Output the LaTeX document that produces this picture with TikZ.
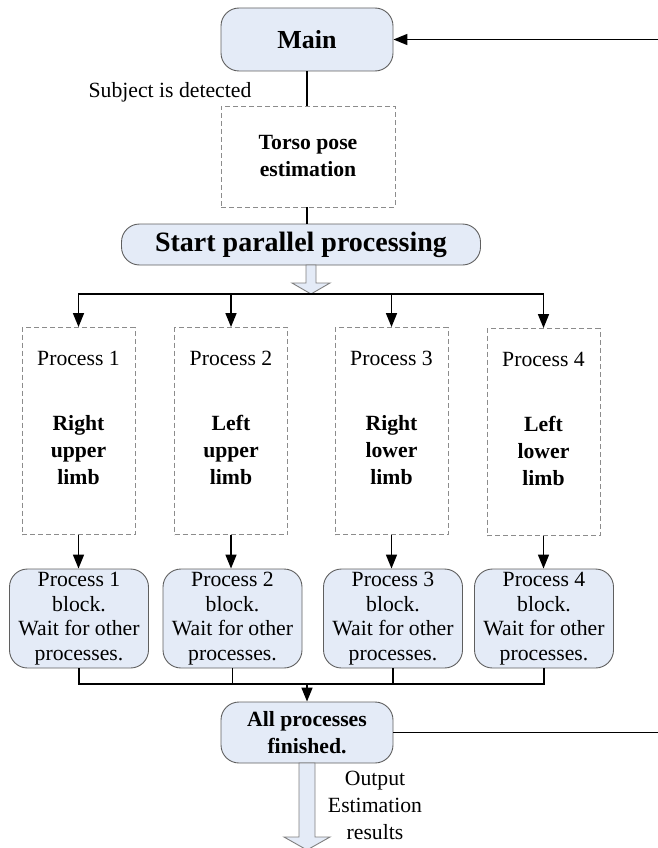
\documentclass[tikz,border=0pt]{standalone}
\usepackage{fontspec}
\setmainfont{Liberation Serif}
\usetikzlibrary{arrows.meta,positioning}
\definecolor{boxfill}{RGB}{228,235,247}
\definecolor{boxline}{RGB}{95,95,95}
\definecolor{dashline}{RGB}{140,140,140}
\tikzset{
  rbox/.style  ={draw=boxline, fill=boxfill, rounded corners=18pt, line width=0.9pt, inner sep=0pt, align=center},
  dbox/.style  ={draw=dashline, dash pattern=on 5pt off 3pt, line width=0.9pt, minimum width=113pt, minimum height=207pt},
  wbox/.style  ={rbox, minimum width=139pt, minimum height=99pt, font=\fontsize{21.7}{24.5}\selectfont},
  conn/.style  ={black, line width=1.6pt},
  arr/.style   ={conn, -{Triangle[length=14pt,width=11pt]}},
  hollow/.style={draw=boxline!80, fill=boxfill, line width=0.9pt},
  txt/.style   ={font=\fontsize{21.7}{27}\selectfont, align=center, inner sep=0pt},
  btxt/.style  ={txt, font=\fontsize{21.7}{27}\selectfont\bfseries},
}
\begin{document}
\begin{tikzpicture}[x=1pt,y=-1pt]
  \useasboundingbox (0,0) rectangle (658,848);
  % top part
  \node[rbox, minimum width=172pt, minimum height=63pt, font=\fontsize{26}{30}\selectfont\bfseries] (main) at (307,39.5) {Main};
  \node[txt] (subj) at (170,92) {Subject is detected};
  \node[dbox, btxt, minimum width=174pt, minimum height=101pt] (torso) at (308,156.5) {Torso pose\\estimation};
  \node[rbox, minimum width=359pt, minimum height=41pt, font=\fontsize{28}{32}\selectfont\bfseries] (start) at (301,244.5) {Start parallel processing};
  \draw[conn] (main.south) -- (main.south |- torso.north);
  \draw[conn] (main.south |- torso.south) -- (main.south |- start.north);
  \draw[hollow] (306,265) -- (316,265) -- (316,283) -- (330,283) -- (311,294) -- (292,283) -- (306,283) -- cycle;
  \coordinate (split) at (311,294);
  % parallel processes
  \node[dbox] (d1) at (78.5,431) {};
  \node[dbox] (d2) at (231,431) {};
  \node[dbox] (d3) at (391.5,431) {};
  \node[dbox] (d4) at (543.5,432) {};
  \node[txt, below=24pt of d1.north] {Process 1};
  \node[txt, below=24pt of d2.north] {Process 2};
  \node[txt, below=24pt of d3.north] {Process 3};
  \node[txt, below=24pt of d4.north] {Process 4};
  \node[btxt, below=88pt of d1.north] {Right\\upper\\limb};
  \node[btxt, below=88pt of d2.north] {Left\\upper\\limb};
  \node[btxt, below=88pt of d3.north] {Right\\lower\\limb};
  \node[btxt, below=88pt of d4.north] {Left\\lower\\limb};
  \draw[arr] (split) -| (d1.north);
  \draw[arr] (split) -| (d2.north);
  \draw[arr] (split) -| (d3.north);
  \draw[arr] (split) -| (d4.north);
  \node[wbox] (b1) at (79,618.5) {Process 1\\block.\\Wait for other\\processes.};
  \node[wbox] (b2) at (232.5,618.5) {Process 2\\block.\\Wait for other\\processes.};
  \node[wbox] (b3) at (393,618.5) {Process 3\\block.\\Wait for other\\processes.};
  \node[wbox] (b4) at (544,618.5) {Process 4\\block.\\Wait for other\\processes.};
  \draw[arr] (d1.south) -- (d1.south |- b1.north);
  \draw[arr] (d2.south) -- (d2.south |- b2.north);
  \draw[arr] (d3.south) -- (d3.south |- b3.north);
  \draw[arr] (d4.south) -- (d4.south |- b4.north);
  % join
  \node[rbox, btxt, minimum width=172pt, minimum height=61pt] (all) at (307,732.5) {All processes\\finished.};
  \coordinate (join) at (307,684);
  \draw[conn] (b1.south) |- (join);
  \draw[conn] (b2.south) |- (join);
  \draw[conn] (b3.south) |- (join);
  \draw[conn] (b4.south) |- (join);
  \draw[arr] (join) -- (join |- all.north);
  \coordinate (back) at (658,732.5);
  \coordinate (ret) at (658,39.5);
  \draw[conn] (all.east) -- (back);
  \draw[arr] (ret) -- (main.east);
  \draw[hollow] (299,763) -- (315,763) -- (315,837) -- (330,837) -- (307,850) -- (284,837) -- (299,837) -- cycle;
  \node[txt] (out) at (375,805) {Output\\Estimation\\results};
\end{tikzpicture}
\end{document}
